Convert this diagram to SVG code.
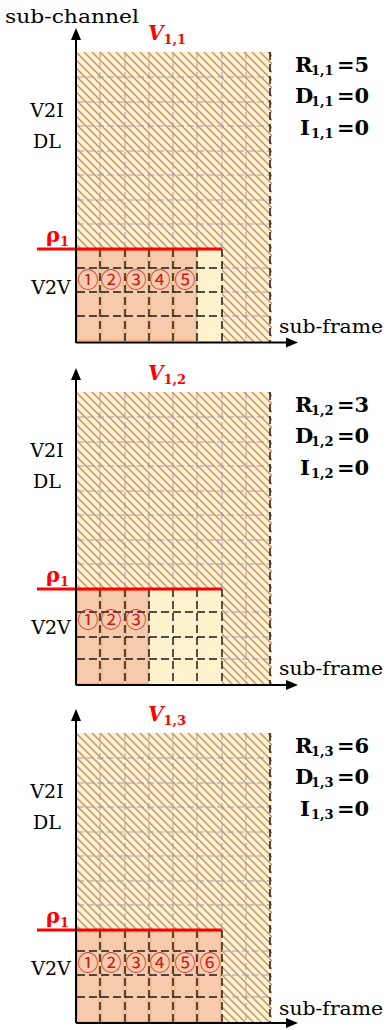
<svg xmlns="http://www.w3.org/2000/svg" width="389" height="1030" viewBox="0 0 389 1030">
<style>
text{font-family:"DejaVu Serif","Liberation Serif",serif;fill:#000}
.lbl{font-size:19px}
.eq{font-size:21px;font-weight:bold}
.sub{font-size:13px;font-weight:bold}
.red{fill:#FF0000;font-weight:bold}
.circ{font-family:"Noto Sans CJK SC","DejaVu Sans",sans-serif;font-size:21px;fill:#C81818;text-anchor:middle}
.g{fill:none;stroke:#A0A0A0;stroke-width:1;stroke-dasharray:7 3}
.k{fill:none;stroke:#1A1A1A;stroke-width:1.5;stroke-dasharray:8 4}
.o{fill:#F8CBAD;stroke:#F4B183;stroke-width:1.5}
.base{fill:#FFF2CC}
.h{fill:url(#hatch)}
.rl{stroke:#FF0000;stroke-width:3}
.ax{stroke:#000;stroke-width:2;fill:none}
</style>
<defs>
<pattern id="hatch" patternUnits="userSpaceOnUse" width="8" height="8">
<path d="M-2,-2 L10,10 M-2,6 L2,10 M6,-2 L10,2" stroke="#C08A70" stroke-width="1.3"/>
</pattern>
</defs>

<g id="panel1">
<rect class="base" x="77" y="52" width="195" height="291"/>
<rect class="h" x="77" y="52" width="195" height="197"/>
<rect class="h" x="222" y="249" width="50" height="94"/>
<path class="g" d="M100,52V249M125,52V249M149,52V249M173,52V249M197,52V249M222,52V249M246,52V342M77,77H270M77,102H270M77,126H270M77,151H270M77,175H270M77,200H270M77,224H270M222,268H270M222,292H270M222,316H270"/>
<rect class="o" x="77.5" y="250.5" width="21.5" height="90"/>
<rect class="o" x="101.5" y="250.5" width="22" height="90"/>
<rect class="o" x="126" y="250.5" width="22" height="90"/>
<rect class="o" x="150.5" y="250.5" width="21.5" height="90"/>
<rect class="o" x="174.5" y="250.5" width="21.5" height="90"/>
<path class="k" d="M100,249V342M125,249V342M149,249V342M173,249V342M197,249V342M222,249V342M77,268H222M77,292H222M77,316H222M270,52V342"/>
<line class="rl" x1="37" y1="249" x2="222" y2="249"/>
<text class="circ" x="88" y="287">①</text>
<text class="circ" x="111" y="287">②</text>
<text class="circ" x="136" y="287">③</text>
<text class="circ" x="160" y="287">④</text>
<text class="circ" x="185" y="287">⑤</text>
<text class="lbl" x="5" y="23" textLength="134" lengthAdjust="spacingAndGlyphs">sub-channel</text>
<text class="lbl" x="47" y="117" text-anchor="middle">V2I</text>
<text class="lbl" x="47" y="148" text-anchor="middle">DL</text>
<text class="lbl" x="51" y="294" text-anchor="middle">V2V</text>
<text class="lbl" x="279" y="333" textLength="104" lengthAdjust="spacingAndGlyphs">sub-frame</text>
<text class="red" x="148" y="40" font-size="20" font-style="italic">V<tspan class="sub" font-style="normal" dy="4">1,1</tspan></text>
<text class="red" x="46" y="242" font-size="21">ρ<tspan class="sub" font-size="14" dy="4">1</tspan></text>
<text class="eq" x="295" y="72">R<tspan class="sub" x="311" dy="3">1,1</tspan><tspan x="337" dy="-3">=5</tspan></text>
<text class="eq" x="295" y="103">D<tspan class="sub" x="311" dy="3">1,1</tspan><tspan x="337" dy="-3">=0</tspan></text>
<text class="eq" x="300" y="135">I<tspan class="sub" x="311" dy="3">1,1</tspan><tspan x="337" dy="-3">=0</tspan></text>
</g>

<g id="panel2" transform="translate(0,340)">
<rect class="base" x="77" y="52" width="195" height="293"/>
<rect class="h" x="77" y="52" width="195" height="197"/>
<rect class="h" x="222" y="249" width="50" height="96"/>
<path class="g" d="M100,52V249M125,52V249M149,52V249M173,52V249M197,52V249M222,52V249M246,52V345M77,77H270M77,102H270M77,126H270M77,151H270M77,175H270M77,200H270M77,224H270M222,272H270M222,297H270M222,319H270"/>
<rect class="o" x="77.5" y="250.5" width="21.5" height="93"/>
<rect class="o" x="101.5" y="250.5" width="22" height="93"/>
<rect class="o" x="126" y="250.5" width="22" height="93"/>
<path class="k" d="M100,249V345M125,249V345M149,249V345M173,249V345M197,249V345M222,249V345M77,272H222M77,297H222M77,319H222M270,52V345"/>
<line class="rl" x1="37" y1="249" x2="222" y2="249"/>
<text class="circ" x="88" y="287">①</text>
<text class="circ" x="111" y="287">②</text>
<text class="circ" x="136" y="287">③</text>
<text class="lbl" x="47" y="117" text-anchor="middle">V2I</text>
<text class="lbl" x="47" y="148" text-anchor="middle">DL</text>
<text class="lbl" x="51" y="294" text-anchor="middle">V2V</text>
<text class="lbl" x="279" y="335" textLength="104" lengthAdjust="spacingAndGlyphs">sub-frame</text>
<text class="red" x="148" y="40" font-size="20" font-style="italic">V<tspan class="sub" font-style="normal" dy="4">1,2</tspan></text>
<text class="red" x="46" y="242" font-size="21">ρ<tspan class="sub" font-size="14" dy="4">1</tspan></text>
<text class="eq" x="295" y="72">R<tspan class="sub" x="311" dy="3">1,2</tspan><tspan x="337" dy="-3">=3</tspan></text>
<text class="eq" x="295" y="103">D<tspan class="sub" x="311" dy="3">1,2</tspan><tspan x="337" dy="-3">=0</tspan></text>
<text class="eq" x="300" y="135">I<tspan class="sub" x="311" dy="3">1,2</tspan><tspan x="337" dy="-3">=0</tspan></text>
</g>

<g id="panel3" transform="translate(0,681)">
<rect class="base" x="77" y="52" width="195" height="290"/>
<rect class="h" x="77" y="52" width="195" height="197"/>
<rect class="h" x="222" y="249" width="50" height="93"/>
<path class="g" d="M100,52V249M125,52V249M149,52V249M173,52V249M197,52V249M222,52V249M246,52V342M77,77H270M77,102H270M77,126H270M77,151H270M77,175H270M77,200H270M77,224H270M222,270H270M222,294H270M222,316H270"/>
<rect class="o" x="77.5" y="250.5" width="21.5" height="90"/>
<rect class="o" x="101.5" y="250.5" width="22" height="90"/>
<rect class="o" x="126" y="250.5" width="22" height="90"/>
<rect class="o" x="150.5" y="250.5" width="21.5" height="90"/>
<rect class="o" x="174.5" y="250.5" width="21.5" height="90"/>
<rect class="o" x="198.5" y="250.5" width="22" height="90"/>
<path class="k" d="M100,249V342M125,249V342M149,249V342M173,249V342M197,249V342M222,249V342M77,270H222M77,294H222M77,316H222M270,52V342"/>
<line class="rl" x1="37" y1="249" x2="222" y2="249"/>
<text class="circ" x="88" y="289">①</text>
<text class="circ" x="111" y="289">②</text>
<text class="circ" x="136" y="289">③</text>
<text class="circ" x="160" y="289">④</text>
<text class="circ" x="185" y="289">⑤</text>
<text class="circ" x="210" y="289">⑥</text>
<text class="lbl" x="47" y="117" text-anchor="middle">V2I</text>
<text class="lbl" x="47" y="148" text-anchor="middle">DL</text>
<text class="lbl" x="51" y="294" text-anchor="middle">V2V</text>
<text class="lbl" x="279" y="334" textLength="104" lengthAdjust="spacingAndGlyphs">sub-frame</text>
<text class="red" x="148" y="40" font-size="20" font-style="italic">V<tspan class="sub" font-style="normal" dy="4">1,3</tspan></text>
<text class="red" x="46" y="242" font-size="21">ρ<tspan class="sub" font-size="14" dy="4">1</tspan></text>
<text class="eq" x="295" y="72">R<tspan class="sub" x="311" dy="3">1,3</tspan><tspan x="337" dy="-3">=6</tspan></text>
<text class="eq" x="295" y="103">D<tspan class="sub" x="311" dy="3">1,3</tspan><tspan x="337" dy="-3">=0</tspan></text>
<text class="eq" x="300" y="135">I<tspan class="sub" x="311" dy="3">1,3</tspan><tspan x="337" dy="-3">=0</tspan></text>
</g>

<g id="connectors">
<path class="ax" d="M76,343V38M76,342.5H288"/>
<polygon points="76,28 71,40 81,40"/>
<polygon points="298,342.5 286,337.5 286,347.5"/>
<path class="ax" d="M76,685V378M76,685H288"/>
<polygon points="76,368 71,380 81,380"/>
<polygon points="298,685 286,680 286,690"/>
<path class="ax" d="M76,1023V719M76,1023H288"/>
<polygon points="76,709 71,721 81,721"/>
<polygon points="298,1023 286,1018 286,1028"/>
</g>
</svg>
